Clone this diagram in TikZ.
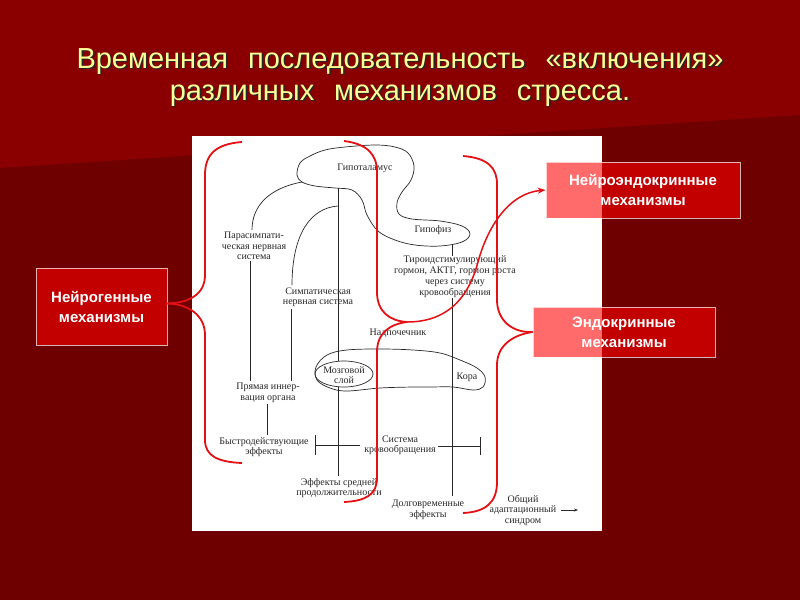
\documentclass[tikz,border=0pt]{standalone}
\usepackage{fontspec}
\setmainfont{Liberation Sans}
\newfontfamily\dserif{Liberation Serif}
\usetikzlibrary{arrows.meta,shapes.geometric}
\definecolor{bgtop}{RGB}{138,0,0}
\definecolor{bgbot}{RGB}{110,0,0}
\definecolor{ttl}{RGB}{255,255,153}
\definecolor{brred}{RGB}{228,16,20}
\definecolor{ink}{RGB}{40,40,40}
\newcommand\tsp{\hspace{20pt}}
\tikzset{
  ttlstyle/.style={text=ttl, font=\fontsize{29}{34}\selectfont, inner sep=0pt, anchor=base},
  ttlshadow/.style={text=black!85, font=\fontsize{29}{34}\selectfont, inner sep=0pt, anchor=base},
  mbox/.style={fill=red, fill opacity=0.58, text opacity=1, draw=white, draw opacity=0.7,
    line width=0.8pt, text=white, font=\bfseries\fontsize{15}{20}\selectfont, align=center},
  lbl/.style={text=ink, font=\dserif\fontsize{10}{10.5}\selectfont, inner sep=0pt, align=center},
  dl/.style={draw=ink, line width=0.7pt},
  brk/.style={draw=brred, line width=1.8pt},
}
\begin{document}
\begin{tikzpicture}[x=1pt,y=-1pt]
\useasboundingbox (0,0) rectangle (800,600);
\fill[bgbot] (0,0) rectangle (800,600);
\fill[bgtop] (0,0) -- (800,0) -- (800,115) -- (0,168) -- cycle;

% title
\node[ttlshadow] (t1s) at (401.5,69.5) {Временная\tsp последовательность\tsp «включения»};
\node[ttlstyle] (t1) at (400,68) {Временная\tsp последовательность\tsp «включения»};
\node[ttlshadow] (t2s) at (401.5,101.5) {различных\tsp механизмов\tsp стресса.};
\node[ttlstyle] (t2) at (400,100) {различных\tsp механизмов\tsp стресса.};

% scanned picture
\fill[white] (192,136) rectangle (602,531);

% hypothalamus + hypophysis outline
\draw[dl] plot[smooth cycle, tension=0.6] coordinates {
(297,175) (300,163) (310,156) (325,150) (345,147) (375,145) (395,147) (408,153)
(414,166) (411,180) (402,192) (397,203) (399,214) (412,219) (440,221) (462,226)
(470,234) (462,242) (440,246) (415,245) (395,240) (378,231) (367,215) (362,200)
(352,190) (335,188) (315,186) (302,182)};

% adrenal outline
\draw[dl] plot[smooth cycle, tension=0.6] coordinates {
(316,367) (327,355) (347,350) (380,349) (413,350) (440,353) (460,360) (477,368)
(485,377) (483,387) (473,390) (453,387) (430,387) (413,387) (380,388) (347,391)
(330,388) (317,380)};

% labels
\node[lbl] (hyp) at (365,168) {Гипоталамус};
\node[lbl] (hypo) at (433,230) {Гипофиз};
\node[lbl] (para) at (254,246) {Парасимпати-\\ческая нервная\\система};
\node[lbl] (symp) at (318,297) {Симпатическая\\нервная система};
\node[lbl, font=\dserif\fontsize{10}{11}\selectfont] (thyr) at (455,276.5) {Тироидстимулирующий\\гормон, АКТГ, гормон роста\\через систему\\кровообращения};
\node[lbl] (adr) at (398,333) {Надпочечник};
\node[dl, draw, ellipse, minimum width=58pt, minimum height=26pt, inner sep=0pt] (medulshape) at (344,374) {};
\node[lbl] (medul) at (344,375) {Мозговой\\слой};
\node[lbl] (cortex) at (467,377) {Кора};
\node[lbl] (direct) at (268,393) {Прямая иннер-\\вация органа};
\node[lbl] (fast) at (264,447) {Быстродействующие\\эффекты};
\node[lbl] (circ) at (400,445) {Система\\кровообращения};
\node[lbl] (mid) at (339,488) {Эффекты средней\\продолжительности};
\node[lbl] (long) at (428,510) {Долговременные\\эффекты};
\node[lbl] (gas) at (523,510) {Общий\\адаптационный\\синдром};

% connectors
\coordinate (hb) at (338,188);
\coordinate (sb) at (338,206);
\draw[dl] (302,182) .. controls (270,188) and (252,205) .. (252,230);
\draw[dl] (250,261) -- (250,381);
\draw[dl] (hb) -- (338,361.3);
\draw[dl] (338,386.7) -- (338,476);
\draw[dl] (sb) .. controls (310,208) and (292,235) .. (292,285);
\draw[dl] (291,309) -- (291,381);
\draw[dl] (452,245) -- (452,256);
\draw[dl] (452,298) -- (452,496);
\draw[dl] (267,404) -- (267,435);
\draw[dl] (315,435) -- (315,455);
\draw[dl] (315,445) -- (360,445);
\draw[dl] (438,446) -- (480,446);
\draw[dl] (480,437) -- (480,455);
\coordinate (gasA) at (561,510);
\coordinate (gasB) at (578,510);
\draw[dl, -{Stealth[length=4pt,width=3pt]}] (gasA) -- (gasB);

% mechanism boxes
\node[mbox, minimum width=131pt, minimum height=77pt] (neuro) at (101.5,306.5) {Нейрогенные\\механизмы};
\node[mbox, minimum width=194pt, minimum height=56pt] (neuroendo) at (643,190) {Нейроэндокринные\\механизмы};
\node[mbox, minimum width=182pt, minimum height=50pt] (endo) at (624,332) {Эндокринные\\механизмы};

% brackets
\coordinate (c1) at ([yshift=3pt]neuro.east);
\draw[brk] (242,142) .. controls (215,144) and (205,155) .. (205,175) -- (205,275)
  .. controls (205,295) and (188,303) .. (c1);
\draw[brk] (c1) .. controls (188,304) and (205,315) .. (205,335) -- (205,440)
  .. controls (205,456) and (218,462) .. (242,463);
\coordinate (c2) at (407,322);
\draw[brk] (344,141) .. controls (368,144) and (377,155) .. (377,172) -- (377,292)
  .. controls (377,312) and (390,321) .. (c2);
\draw[brk] (c2) .. controls (390,324) and (377,333) .. (377,352) -- (377,478)
  .. controls (377,495) and (365,501) .. (344,502);
\draw[brk, line width=1.5pt, -{Stealth[length=8pt,width=6pt]}] (c2) .. controls (452,322) and (470,292) .. (478,262)
  .. controls (488,225) and (510,193) .. (neuroendo.west);
\draw[brk] (463,156) .. controls (488,158) and (497,168) .. (497,184) -- (497,300)
  .. controls (497,320) and (512,333) .. (endo.west);
\draw[brk] (endo.west) .. controls (512,335) and (497,346) .. (497,365) -- (497,482)
  .. controls (497,503) and (485,512) .. (463,513);
\end{tikzpicture}
\end{document}
